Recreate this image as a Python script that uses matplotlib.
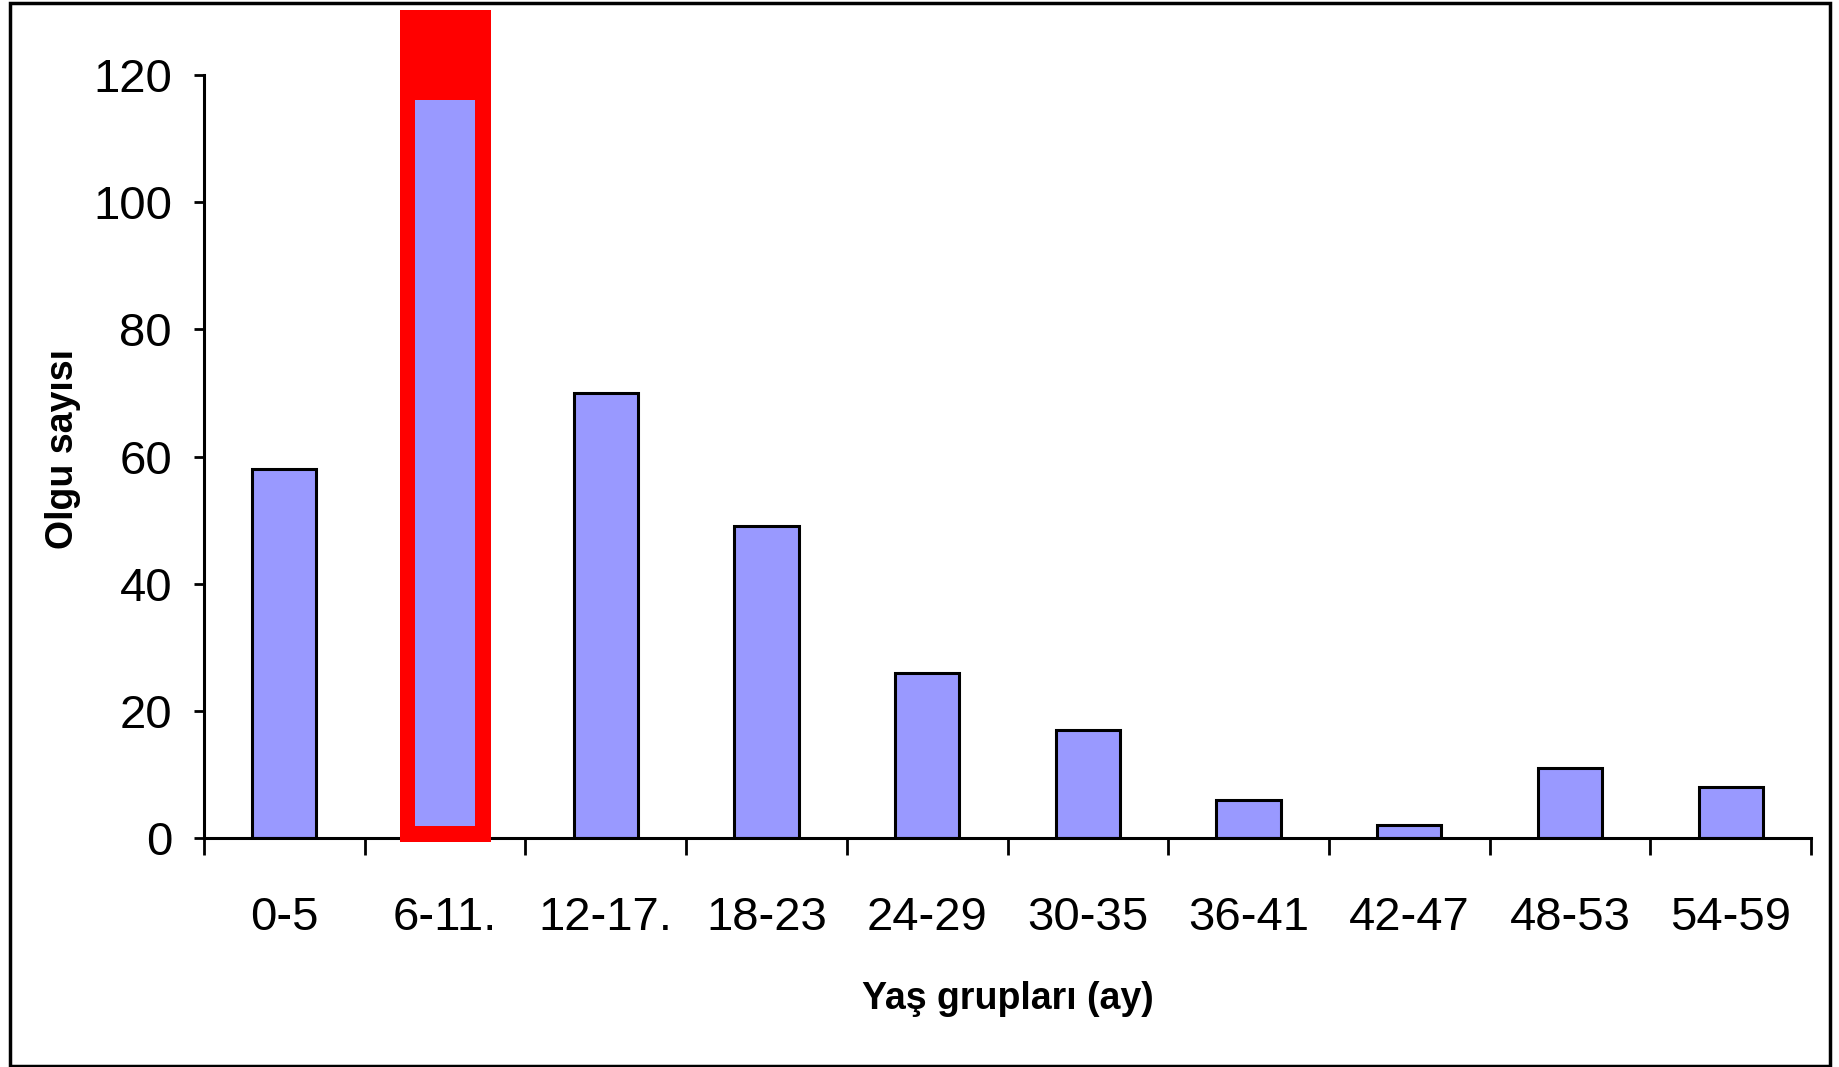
import matplotlib.pyplot as plt
from matplotlib.patches import Rectangle
import numpy as np

plt.rcParams['font.family'] = ['Liberation Sans Narrow', 'Liberation Sans', 'DejaVu Sans']

age_groups = ['0-5', '6-11.', '12-17.', '18-23', '24-29', '30-35', '36-41', '42-47', '48-53', '54-59']
cases = [58, 116, 70, 49, 26, 17, 6, 2, 11, 8]
highlight = 1  # 6-11 group boxed in red

fig = plt.figure(figsize=(18.39, 10.67), dpi=100)
ax = fig.add_axes([204 / 1839, 1 - 838 / 1067, (1811 - 204) / 1839, (838 - 75) / 1067])

x = np.arange(len(age_groups))
bars = ax.bar(x, cases, width=0.4, color='#9999FF', edgecolor='black', linewidth=2.2, zorder=2)

# red highlight box around the 6-11 bar
ax.add_patch(Rectangle((highlight - 0.283, -0.7), 0.566, 131.0, facecolor='#FF0000',
                       edgecolor='none', clip_on=False, zorder=3))
ax.add_patch(Rectangle((highlight - 0.187, 1.9), 0.374, cases[highlight] - 1.9,
                       facecolor='#9999FF', edgecolor='none', clip_on=False, zorder=4))

ax.set_xlim(-0.5, len(age_groups) - 0.5)
ax.set_ylim(0, 120)
ax.set_yticks(range(0, 121, 20))
ax.set_xticks(x)
ax.set_xticklabels(age_groups)
ax.set_xticks(np.arange(-0.5, len(age_groups)), minor=True)

for s in ['top', 'right']:
    ax.spines[s].set_visible(False)
for s in ['left', 'bottom']:
    ax.spines[s].set_linewidth(2.2)

ax.tick_params(axis='y', which='major', length=7, width=2, pad=16, labelsize=34)
ax.tick_params(axis='x', which='major', length=0, pad=42, labelsize=34)
ax.tick_params(axis='x', which='minor', length=12, width=2)

ax.set_xlabel('Yaş grupları (ay)', fontsize=27, fontweight='bold', labelpad=29)
ax.set_ylabel('Olgu sayısı', fontsize=27, fontweight='bold', va='center')
ax.yaxis.set_label_coords(-0.088, 0.51)

# outer frame
fig.patches.append(Rectangle((10 / 1839, 1 / 1067), 1820 / 1839, 1063 / 1067,
                             transform=fig.transFigure, fill=False, edgecolor='black',
                             linewidth=2.5))

fig.savefig('out.png', dpi=100)
